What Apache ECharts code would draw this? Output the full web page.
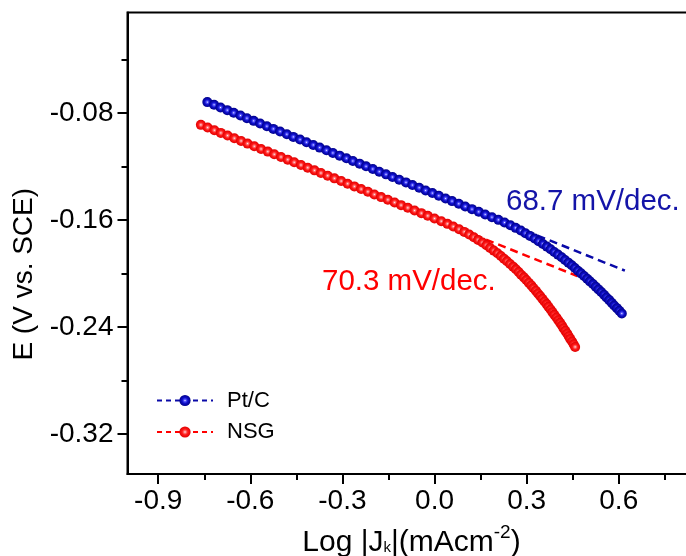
<!DOCTYPE html>
<html>
<head>
<meta charset="utf-8">
<script src="https://cdn.jsdelivr.net/npm/echarts@6/dist/echarts.min.js"></script>
<style>
  html, body { margin: 0; padding: 0; background: #ffffff; }
  #chart { width: 686px; height: 556px; }
</style>
</head>
<body>
<div id="chart"></div>
<script>
// Tafel plots: potential E (V vs. SCE) against log of kinetic current density
const ptcLogJ = [
  -0.740, -0.718, -0.697, -0.675, -0.654, -0.632, -0.611, -0.589, -0.568, -0.546,
  -0.525, -0.503, -0.481, -0.460, -0.438, -0.417, -0.395, -0.374, -0.352, -0.331,
  -0.309, -0.287, -0.266, -0.244, -0.223, -0.201, -0.180, -0.158, -0.137, -0.115,
  -0.093, -0.072, -0.050, -0.029, -0.007, 0.014, 0.036, 0.057, 0.079, 0.100,
  0.122, 0.144, 0.165, 0.187, 0.208, 0.228, 0.247, 0.264, 0.281, 0.296,
  0.311, 0.326, 0.339, 0.353, 0.366, 0.378, 0.390, 0.402, 0.414, 0.425,
  0.436, 0.447, 0.457, 0.467, 0.477, 0.487, 0.497, 0.506, 0.516, 0.525,
  0.534, 0.543, 0.552, 0.560, 0.569, 0.577, 0.585, 0.594, 0.602, 0.610
];
const ptcE = [
  -0.072, -0.074, -0.076, -0.078, -0.080, -0.082, -0.084, -0.086, -0.088, -0.090,
  -0.092, -0.094, -0.096, -0.098, -0.100, -0.102, -0.104, -0.106, -0.108, -0.110,
  -0.112, -0.114, -0.116, -0.118, -0.120, -0.122, -0.124, -0.126, -0.128, -0.130,
  -0.132, -0.134, -0.136, -0.138, -0.140, -0.142, -0.144, -0.146, -0.148, -0.150,
  -0.152, -0.154, -0.156, -0.158, -0.160, -0.162, -0.164, -0.166, -0.168, -0.170,
  -0.172, -0.174, -0.176, -0.178, -0.180, -0.182, -0.184, -0.186, -0.188, -0.190,
  -0.192, -0.194, -0.196, -0.198, -0.200, -0.202, -0.204, -0.206, -0.208, -0.210,
  -0.212, -0.214, -0.216, -0.218, -0.220, -0.222, -0.224, -0.226, -0.228, -0.230
];
const nsgLogJ = [
  -0.761, -0.739, -0.717, -0.696, -0.674, -0.652, -0.630, -0.609, -0.587, -0.565,
  -0.543, -0.522, -0.500, -0.478, -0.457, -0.435, -0.413, -0.391, -0.370, -0.348,
  -0.326, -0.304, -0.283, -0.261, -0.239, -0.217, -0.196, -0.174, -0.152, -0.130,
  -0.109, -0.087, -0.065, -0.043, -0.022, 0.000, 0.022, 0.042, 0.061, 0.080,
  0.097, 0.113, 0.128, 0.142, 0.156, 0.169, 0.181, 0.193, 0.205, 0.216,
  0.226, 0.236, 0.246, 0.256, 0.265, 0.274, 0.282, 0.291, 0.299, 0.307,
  0.315, 0.322, 0.330, 0.337, 0.344, 0.351, 0.358, 0.365, 0.371, 0.378,
  0.384, 0.390, 0.397, 0.403, 0.409, 0.415, 0.420, 0.426, 0.432, 0.437,
  0.442, 0.448, 0.453, 0.458
];
const nsgE = [
  -0.089, -0.091, -0.093, -0.095, -0.097, -0.099, -0.101, -0.103, -0.105, -0.107,
  -0.109, -0.111, -0.113, -0.115, -0.117, -0.119, -0.121, -0.123, -0.125, -0.127,
  -0.129, -0.131, -0.133, -0.135, -0.137, -0.139, -0.141, -0.143, -0.145, -0.147,
  -0.149, -0.151, -0.153, -0.155, -0.157, -0.159, -0.161, -0.163, -0.165, -0.167,
  -0.169, -0.171, -0.173, -0.175, -0.177, -0.179, -0.181, -0.183, -0.185, -0.187,
  -0.189, -0.191, -0.193, -0.195, -0.197, -0.199, -0.201, -0.203, -0.205, -0.207,
  -0.209, -0.211, -0.213, -0.215, -0.217, -0.219, -0.221, -0.223, -0.225, -0.227,
  -0.229, -0.231, -0.233, -0.235, -0.237, -0.239, -0.241, -0.243, -0.245, -0.247,
  -0.249, -0.251, -0.253, -0.255
];

// Linear Tafel fits (end points)
const ptcFitLogJ = [0.10, 0.62];
const ptcFitE = [-0.150, -0.198];
const nsgFitLogJ = [0.05, 0.465];
const nsgFitE = [-0.164, -0.202];

// Slope annotations
const ptcSlopeText = '68.7 mV/dec.';
const nsgSlopeText = '70.3 mV/dec.';

// Axis ticks
const xMajor = [-0.9, -0.6, -0.3, 0.0, 0.3, 0.6];
const xMinor = [-0.75, -0.45, -0.15, 0.15, 0.45, 0.75];
const yMajor = [-0.32, -0.24, -0.16, -0.08];
const yMinor = [-0.28, -0.20, -0.12, -0.04];

const FONT = "'Liberation Sans', Arial, sans-serif";
const BLUE = '#0a0aa8';
const RED = '#ff0000';

function zip(xs, ys) { return xs.map((x, i) => [x, ys[i]]); }
function bead(light, mid, dark) {
  return {
    type: 'radial', x: 0.5, y: 0.5, r: 0.5,
    colorStops: [
      { offset: 0, color: '#f4f4ff' },
      { offset: 0.18, color: light },
      { offset: 0.5, color: mid },
      { offset: 1, color: dark }
    ]
  };
}

const chart = echarts.init(document.getElementById('chart'), null, { renderer: 'canvas' });

const tickLine = { color: '#000', width: 2 };

chart.setOption({
  animation: false,
  backgroundColor: '#ffffff',
  grid: {
    left: 127.5, top: 12.5, right: -9.5, bottom: 82,
    outerBoundsMode: 'none', containLabel: false,
    show: true, borderColor: '#000', borderWidth: 2
  },
  xAxis: [
    {
      type: 'value', position: 'bottom', min: -1.0, max: 0.85,
      axisLine: { onZero: false, lineStyle: tickLine },
      axisTick: { customValues: xMajor, length: 10, lineStyle: tickLine },
      axisLabel: {
        customValues: xMajor, formatter: v => v.toFixed(1),
        fontFamily: FONT, fontSize: 28, color: '#000', margin: 13
      },
      splitLine: { show: false },
      name: '{n|Log |J}{s|k}{n||(mAcm}{p|-2}{n|)}',
      nameLocation: 'middle', nameGap: 49,
      nameTextStyle: {
        rich: {
          n: { fontFamily: FONT, fontSize: 30, color: '#000', lineHeight: 40, verticalAlign: 'middle' },
          s: { fontFamily: FONT, fontSize: 15, color: '#000', verticalAlign: 'bottom', padding: [0, 0, 8, 0] },
          p: { fontFamily: FONT, fontSize: 19, color: '#000', lineHeight: 18, verticalAlign: 'top' }
        }
      }
    },
    {
      type: 'value', position: 'bottom', min: -1.0, max: 0.85,
      axisLine: { show: false, onZero: false },
      axisTick: { customValues: xMinor, length: 6, lineStyle: tickLine },
      axisLabel: { show: false },
      splitLine: { show: false }
    }
  ],
  yAxis: [
    {
      type: 'value', position: 'left', min: -0.35, max: -0.005,
      axisLine: { onZero: false, lineStyle: tickLine },
      axisTick: { customValues: yMajor, length: 10, lineStyle: tickLine },
      axisLabel: {
        customValues: yMajor, formatter: v => v.toFixed(2),
        fontFamily: FONT, fontSize: 28, color: '#000', margin: 14
      },
      splitLine: { show: false },
      name: 'E (V vs. SCE)',
      nameLocation: 'middle', nameGap: 86,
      nameTextStyle: { fontFamily: FONT, fontSize: 28, color: '#000', padding: [0, 62, 0, 0] }
    },
    {
      type: 'value', position: 'left', min: -0.35, max: -0.005,
      axisLine: { show: false, onZero: false },
      axisTick: { customValues: yMinor, length: 6, lineStyle: tickLine },
      axisLabel: { show: false },
      splitLine: { show: false }
    }
  ],
  legend: {
    orient: 'vertical', left: 156, top: 389.5, padding: 0,
    itemWidth: 56, itemHeight: 14, itemGap: 9.5,
    selectedMode: false,
    data: ['Pt/C', 'NSG'],
    textStyle: { fontFamily: FONT, fontSize: 22, color: '#000', padding: [0, 0, 0, 9] }
  },
  graphic: [
    {
      type: 'text', x: 506, y: 202, silent: true,
      style: { text: ptcSlopeText, fontFamily: FONT, fontSize: 29.5, fill: '#1414a8', verticalAlign: 'middle' }
    },
    {
      type: 'text', x: 322, y: 282, silent: true,
      style: { text: nsgSlopeText, fontFamily: FONT, fontSize: 29.5, fill: RED, verticalAlign: 'middle' }
    }
  ],
  series: [
    {
      name: 'Pt/C fit', type: 'line', silent: true, symbol: 'none',
      data: zip(ptcFitLogJ, ptcFitE),
      lineStyle: { color: BLUE, width: 2.5, type: [8, 5] }
    },
    {
      name: 'NSG fit', type: 'line', silent: true, symbol: 'none',
      data: zip(nsgFitLogJ, nsgFitE),
      lineStyle: { color: RED, width: 2.5, type: [8, 5] }
    },
    {
      name: 'Pt/C', type: 'line', data: zip(ptcLogJ, ptcE),
      symbol: 'circle', symbolSize: 10, showAllSymbol: true,
      lineStyle: { color: BLUE, width: 2, type: [5, 4] },
      itemStyle: { color: bead('#5c5cff', '#1010cc', '#00008a') }
    },
    {
      name: 'NSG', type: 'line', data: zip(nsgLogJ, nsgE),
      symbol: 'circle', symbolSize: 10, showAllSymbol: true,
      lineStyle: { color: RED, width: 2, type: [5, 4] },
      itemStyle: { color: bead('#ff8080', '#ff1a1a', '#e00000') }
    }
  ]
});
</script>
</body>
</html>
